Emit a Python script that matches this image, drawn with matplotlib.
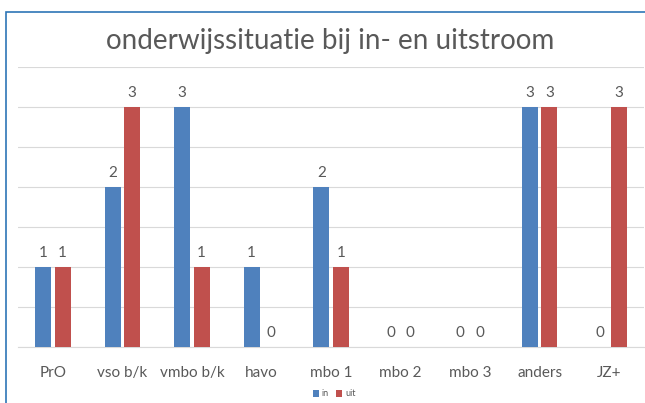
import numpy as np
import matplotlib
matplotlib.use("Agg")
import matplotlib.pyplot as plt
from matplotlib.patches import Rectangle

categories = ["PrO", "vso b/k", "vmbo b/k", "havo", "mbo 1", "mbo 2", "mbo 3", "anders", "JZ+"]
in_values = [1, 2, 3, 1, 2, 0, 0, 3, 0]
uit_values = [1, 3, 1, 0, 1, 0, 0, 3, 3]
title = "onderwijssituatie bij in- en uitstroom"

blue = "#4F81BD"
red = "#C0504D"
grey_text = "#595959"

plt.rcParams["font.family"] = ["Lato", "DejaVu Sans"]

fig = plt.figure(figsize=(6.45, 4.03), dpi=100)
fig.patch.set_facecolor("white")

# blue frame of the embedded chart (left and top edges)
fig.add_artist(Rectangle((6 / 645, -0.1), 1.2, (403 - 12) / 403 + 0.1,
                         transform=fig.transFigure, fill=False,
                         edgecolor="#2E75B6", linewidth=1.2))

ax = fig.add_axes([18 / 645, 56 / 403, 626 / 645, 280 / 403])
x = np.arange(len(categories))
w = 0.23
b1 = ax.bar(x - 0.14, in_values, w, color=blue, label="in", zorder=3)
b2 = ax.bar(x + 0.14, uit_values, w, color=red, label="uit", zorder=3)

for bars in (b1, b2):
    for rect in bars:
        h = rect.get_height()
        ax.annotate(str(int(h)), (rect.get_x() + rect.get_width() / 2, h),
                    xytext=(0, 5), textcoords="offset points",
                    ha="center", va="bottom", fontsize=11, color=grey_text)

ax.set_xlim(-0.5, len(categories) - 0.5)
ax.set_ylim(0, 3.5)
ax.set_yticks(np.arange(0, 3.51, 0.5))
ax.set_yticklabels([])
ax.tick_params(axis="y", length=0)
ax.grid(axis="y", color="#D9D9D9", linewidth=0.8, zorder=0)
ax.set_xticks(x)
ax.set_xticklabels(categories, fontsize=11, color=grey_text)
ax.tick_params(axis="x", length=0, pad=14)
for s in ["top", "right", "left"]:
    ax.spines[s].set_visible(False)
ax.spines["bottom"].set_color("#D9D9D9")

fig.text(330 / 645, 1 - 41 / 403, title, ha="center", va="center",
         fontsize=20, color=grey_text)

fig.legend(handles=[b1, b2], labels=["in", "uit"], loc="center",
           bbox_to_anchor=(334 / 645, 1 - 394 / 403), ncol=2, frameon=False,
           fontsize=6.5, labelcolor=grey_text, handlelength=0.7, handleheight=0.7,
           handletextpad=0.3, columnspacing=0.8)

fig.savefig("out.png", dpi=100)
